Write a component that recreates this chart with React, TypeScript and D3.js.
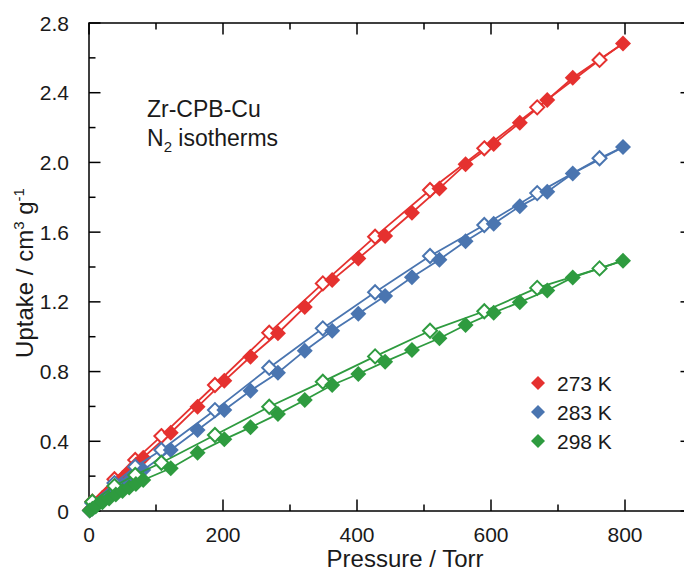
import React from "react";
import * as d3 from "d3";

const seriesNames = ["273 K", "283 K", "298 K"];
const seriesColors = ["#e5312f", "#4a75b0", "#2e9b3f"];

// adsorption (filled) pressures, Torr
const adsP = [1, 5, 10, 20, 30, 40, 50, 60, 70, 81, 122, 162, 202, 241, 282, 322, 363, 402, 442, 482, 523, 562, 604, 643, 684, 722, 797];
const ads273 = [0.004, 0.019, 0.038, 0.076, 0.114, 0.152, 0.19, 0.228, 0.265, 0.306, 0.449, 0.598, 0.747, 0.885, 1.02, 1.17, 1.325, 1.449, 1.578, 1.711, 1.851, 1.989, 2.106, 2.228, 2.358, 2.486, 2.683];
const ads283 = [0.003, 0.015, 0.03, 0.06, 0.089, 0.118, 0.147, 0.176, 0.205, 0.235, 0.35, 0.465, 0.579, 0.69, 0.793, 0.92, 1.034, 1.132, 1.234, 1.341, 1.442, 1.548, 1.648, 1.748, 1.832, 1.937, 2.088];
const ads298 = [0.003, 0.013, 0.026, 0.05, 0.072, 0.094, 0.115, 0.135, 0.155, 0.178, 0.245, 0.334, 0.411, 0.48, 0.556, 0.637, 0.723, 0.786, 0.857, 0.924, 0.991, 1.067, 1.138, 1.198, 1.265, 1.34, 1.436];

// desorption (open) pressures, Torr
const desP = [762, 669, 590, 509, 427, 349, 269, 188, 108, 69, 38, 5];
const des273 = [2.588, 2.316, 2.081, 1.842, 1.574, 1.306, 1.023, 0.723, 0.43, 0.293, 0.182, 0.053];
const des283 = [2.024, 1.824, 1.641, 1.463, 1.255, 1.048, 0.822, 0.579, 0.35, 0.254, 0.16, 0.046];
const des298 = [1.392, 1.28, 1.146, 1.034, 0.887, 0.742, 0.598, 0.436, 0.277, 0.207, 0.143, 0.053];

const xMajor = [0, 200, 400, 600, 800];
const xMinor = [100, 300, 500, 700];
const yMajor = [0, 0.4, 0.8, 1.2, 1.6, 2.0, 2.4, 2.8];
const yMinor = [0.2, 0.6, 1.0, 1.4, 1.8, 2.2, 2.6];

const W = 684, H = 575;
const L = 89, R = 692, T = 23, B = 511;
const FONT = "'Liberation Sans', Arial, Helvetica, sans-serif";

const x = d3.scaleLinear().domain([0, 900]).range([L, R]);
const y = d3.scaleLinear().domain([0, 2.8]).range([B, T]);

const diamond = (r: number) => `M0,${-r}L${r},0L0,${r}L${-r},0Z`;

export default function App() {
  const adsAll = [ads273, ads283, ads298];
  const desAll = [des273, des283, des298];
  const line = d3.line<[number, number]>().x(d => x(d[0])).y(d => y(d[1]));
  const R_M = 8;

  return (
    <svg width={W} height={H} style={{ position: "absolute", left: 0, top: 0, background: "#fff" }} fontFamily={FONT}>
      <rect x={0} y={0} width={W} height={H} fill="#fff" />
      {/* frame */}
      <rect x={L} y={T} width={R - L} height={B - T} fill="none" stroke="#000" strokeWidth={1.5} />
      {/* ticks */}
      {xMajor.map(v => (
        <g key={"xM" + v}>
          <line x1={x(v)} x2={x(v)} y1={B} y2={B - 11.5} stroke="#000" strokeWidth={1.5} />
          <line x1={x(v)} x2={x(v)} y1={T} y2={T + 11.5} stroke="#000" strokeWidth={1.5} />
          <text x={x(v)} y={B + 31} fontSize={21} textAnchor="middle" fill="#1a1a1a">{v}</text>
        </g>
      ))}
      {xMinor.map(v => (
        <g key={"xm" + v}>
          <line x1={x(v)} x2={x(v)} y1={B} y2={B - 6.5} stroke="#000" strokeWidth={1.5} />
          <line x1={x(v)} x2={x(v)} y1={T} y2={T + 6.5} stroke="#000" strokeWidth={1.5} />
        </g>
      ))}
      {yMajor.map(v => (
        <g key={"yM" + v}>
          <line x1={L} x2={L + 11.5} y1={y(v)} y2={y(v)} stroke="#000" strokeWidth={1.5} />
          <line x1={R} x2={R - 11.5} y1={y(v)} y2={y(v)} stroke="#000" strokeWidth={1.5} />
          <text x={L - 20} y={y(v) + 7.5} fontSize={21} textAnchor="end" fill="#1a1a1a">{v === 0 ? "0" : v.toFixed(1)}</text>
        </g>
      ))}
      {yMinor.map(v => (
        <g key={"ym" + v}>
          <line x1={L} x2={L + 6.5} y1={y(v)} y2={y(v)} stroke="#000" strokeWidth={1.5} />
          <line x1={R} x2={R - 6.5} y1={y(v)} y2={y(v)} stroke="#000" strokeWidth={1.5} />
        </g>
      ))}
      {/* axis titles */}
      <text x={405} y={567} fontSize={24} textAnchor="middle" fill="#1a1a1a">Pressure / Torr</text>
      <text transform={`translate(33,${(T + B) / 2 + 6}) rotate(-90)`} fontSize={24} textAnchor="middle" fill="#1a1a1a">
        Uptake / cm<tspan fontSize={15} dy={-9}>3</tspan><tspan dy={9}> g</tspan><tspan fontSize={15} dy={-9}>-1</tspan>
      </text>
      {/* annotation */}
      <text x={147} y={117} fontSize={23} fill="#1a1a1a">Zr-CPB-Cu</text>
      <text x={147} y={146} fontSize={23} fill="#1a1a1a">
        N<tspan fontSize={15} dy={6}>2</tspan><tspan dy={-6}> isotherms</tspan>
      </text>
      {/* series */}
      {seriesNames.map((name, i) => {
        const color = seriesColors[i];
        const ads: [number, number][] = adsP.map((p, k) => [p, adsAll[i][k]]);
        const des: [number, number][] = desP.map((p, k) => [p, desAll[i][k]]);
        const desLine: [number, number][] = [ads[ads.length - 1], ...des];
        return (
          <g key={name}>
            <path d={line(ads) || ""} fill="none" stroke={color} strokeWidth={1.8} />
            <path d={line(desLine) || ""} fill="none" stroke={color} strokeWidth={1.8} />
            {des.map((d, k) => (
              <path key={"o" + k} d={diamond(R_M - 1)} transform={`translate(${x(d[0])},${y(d[1])})`} fill="#fff" stroke={color} strokeWidth={2} />
            ))}
            {ads.map((d, k) => (
              <path key={"f" + k} d={diamond(R_M)} transform={`translate(${x(d[0])},${y(d[1])})`} fill={color} />
            ))}
          </g>
        );
      })}
      {/* legend */}
      {seriesNames.map((name, i) => (
        <g key={"lg" + name} transform={`translate(0,${383 + i * 29})`}>
          <path d={diamond(7)} transform="translate(538,0)" fill={seriesColors[i]} />
          <text x={557} y={7.5} fontSize={21} fill="#1a1a1a">{name}</text>
        </g>
      ))}
    </svg>
  );
}
